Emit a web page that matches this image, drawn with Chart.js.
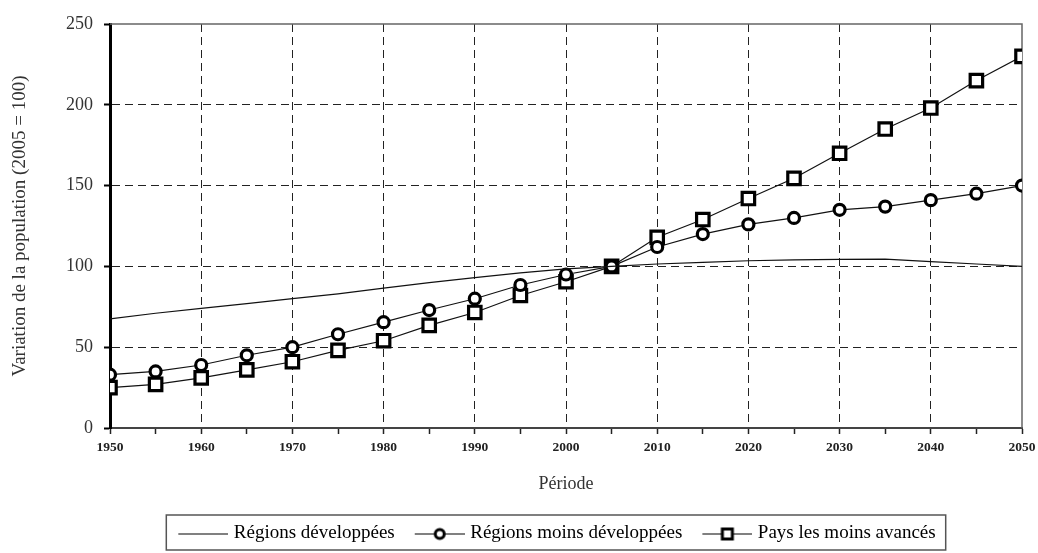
<!DOCTYPE html>
<html>
<head>
<meta charset="utf-8">
<script src="https://cdn.jsdelivr.net/npm/chart.js@4"></script>
<style>
  html, body { margin: 0; padding: 0; background: #fff; }
</style>
</head>
<body>
<canvas id="popChart" width="1038" height="553"></canvas>
<script>
// Years (every 5 years) and the three series, 2005 = 100
const years = [1950, 1955, 1960, 1965, 1970, 1975, 1980, 1985, 1990, 1995, 2000,
               2005, 2010, 2015, 2020, 2025, 2030, 2035, 2040, 2045, 2050];
const developpees = [67.5, 71, 74, 77, 80, 83, 86.5, 90, 93, 96, 98.5,
                     100, 101.5, 102.5, 103.5, 104, 104.3, 104.5, 103, 101.5, 100];
const moinsDeveloppees = [33, 35, 39, 45, 50, 58, 65.5, 73, 80, 88.5, 95,
                          100, 112, 120, 126, 130, 135, 137, 141, 145, 150];
const moinsAvances = [25, 27, 31, 36, 41, 48, 54, 63.5, 71.5, 82, 90.5,
                      100, 118, 129, 142, 154.5, 170, 185, 198, 215, 230];
const seriesNames = ['Régions développées', 'Régions moins développées', 'Pays les moins avancés'];
const yTicks = [0, 50, 100, 150, 200, 250];
const xLabelStep = 10;

const serif = "'Liberation Serif', 'DejaVu Serif', serif";

function toPoints(values) {
  return years.map((yr, i) => ({ x: yr, y: values[i] }));
}

// little legend samples: a line with the marker in the middle
// (image is 70 wide, the sample is its last 50 px)
function makeSample(marker) {
  const c = document.createElement('canvas');
  c.width = 70; c.height = 16;
  const g = c.getContext('2d');
  g.strokeStyle = '#000';
  g.lineWidth = 1.2;
  g.beginPath();
  g.moveTo(20, 8.5);
  g.lineTo(70, 8.5);
  g.stroke();
  g.lineWidth = 3;
  g.fillStyle = '#fff';
  if (marker === 'circle') {
    g.beginPath();
    g.arc(45, 8.5, 4.5, 0, Math.PI * 2);
    g.fill(); g.stroke();
  } else if (marker === 'rect') {
    g.beginPath();
    g.rect(40, 3.5, 10, 10);
    g.fill(); g.stroke();
  }
  return c;
}
const samples = [makeSample('none'), makeSample('circle'), makeSample('rect')];

// shift the legend a bit to the right, like the original
const legendShift = {
  id: 'legendShift',
  afterLayout(chart) {
    chart.legend.left += 38;
    chart.legend.right += 38;
  }
};

// frame on top / right, and the box around the legend
const framePlugin = {
  id: 'framePlugin',
  beforeDatasetsDraw(chart) {
    const { ctx, chartArea: a } = chart;
    ctx.save();
    ctx.strokeStyle = '#666';
    ctx.lineWidth = 1.5;
    ctx.beginPath();
    ctx.moveTo(a.left, a.top);
    ctx.lineTo(a.right, a.top);
    ctx.lineTo(a.right, a.bottom);
    ctx.stroke();
    ctx.restore();
  },
  afterDraw(chart) {
    const hb = chart.legend.legendHitBoxes;
    if (!hb || !hb.length) return;
    const last = hb[hb.length - 1];
    const left = hb[0].left + 4;
    const right = last.left + last.width + 10;
    const top = hb[0].top - 9;
    const bottom = hb[0].top + hb[0].height + 7;
    const ctx = chart.ctx;
    ctx.save();
    ctx.strokeStyle = '#555';
    ctx.lineWidth = 1.5;
    ctx.strokeRect(left, top, right - left, bottom - top);
    ctx.restore();
  }
};

const ctx = document.getElementById('popChart').getContext('2d');
const popChart = new Chart(ctx, {
  type: 'line',
  data: {
    datasets: [
      {
        label: seriesNames[0],
        data: toPoints(developpees),
        borderColor: '#111',
        borderWidth: 1.2,
        pointRadius: 0,
        fill: false,
        tension: 0
      },
      {
        label: seriesNames[1],
        data: toPoints(moinsDeveloppees),
        borderColor: '#111',
        borderWidth: 1.2,
        pointStyle: 'circle',
        pointRadius: 5.5,
        pointBorderWidth: 3.2,
        pointBorderColor: '#000',
        pointBackgroundColor: '#fff',
        fill: false
      },
      {
        label: seriesNames[2],
        data: toPoints(moinsAvances),
        borderColor: '#111',
        borderWidth: 1.2,
        pointStyle: 'rect',
        pointRadius: 8.8,
        pointBorderWidth: 3.2,
        pointBorderColor: '#000',
        pointBackgroundColor: '#fff',
        fill: false
      }
    ]
  },
  options: {
    responsive: false,
    animation: false,
    layout: { padding: { top: 24, right: 16, left: 0, bottom: 0 } },
    plugins: {
      tooltip: { enabled: false },
      legend: {
        position: 'bottom',
        labels: {
          usePointStyle: true,
          pointStyleWidth: 62,
          padding: 4,
          color: '#333',
          font: { family: serif, size: 19 },
          generateLabels: (chart) => chart.data.datasets.map((ds, i) => ({
            text: ds.label,
            pointStyle: samples[i],
            fillStyle: '#fff',
            strokeStyle: '#000',
            lineWidth: 0,
            hidden: false,
            datasetIndex: i
          }))
        }
      }
    },
    scales: {
      x: {
        type: 'linear',
        min: years[0],
        max: years[years.length - 1],
        afterFit: (scale) => {
          scale.height = 92;
          scale.paddingRight = 0;
          scale.paddingLeft = 0;
        },
        ticks: {
          stepSize: 5,
          autoSkip: false,
          maxRotation: 0,
          padding: 5,
          color: '#222',
          font: { family: serif, size: 13.5, weight: 'bold' },
          callback: (v) => (v % xLabelStep === 0 ? String(v) : '')
        },
        grid: {
          color: (c) => {
            const v = c.tick && c.tick.value;
            return (v % xLabelStep === 0 && v > years[0] && v < years[years.length - 1]) ? '#222' : 'rgba(0,0,0,0)';
          },
          lineWidth: 1,
          tickColor: '#222',
          tickLength: 6,
          tickWidth: 1.5
        },
        border: { color: '#444', width: 2, dash: [8, 5] },
        title: {
          display: true,
          text: 'Période',
          color: '#333',
          font: { family: serif, size: 18 },
          padding: { top: 0, bottom: 25 }
        }
      },
      y: {
        min: yTicks[0],
        max: yTicks[yTicks.length - 1],
        afterFit: (scale) => { scale.width = 110; },
        afterBuildTicks: (scale) => { scale.ticks = yTicks.map(v => ({ value: v })); },
        ticks: {
          padding: 11,
          color: '#333',
          font: { family: serif, size: 18 }
        },
        grid: {
          color: (c) => {
            const v = c.tick && c.tick.value;
            return (v > yTicks[0] && v < yTicks[yTicks.length - 1]) ? '#222' : 'rgba(0,0,0,0)';
          },
          lineWidth: 1,
          tickColor: '#000',
          tickLength: 6,
          tickWidth: 2
        },
        border: { color: '#000', width: 3, dash: [8, 5] },
        title: {
          display: true,
          text: 'Variation de la population (2005 = 100)',
          color: '#333',
          font: { family: serif, size: 19 },
          padding: { top: 9, bottom: 0 }
        }
      }
    }
  },
  plugins: [legendShift, framePlugin]
});
</script>
</body>
</html>
